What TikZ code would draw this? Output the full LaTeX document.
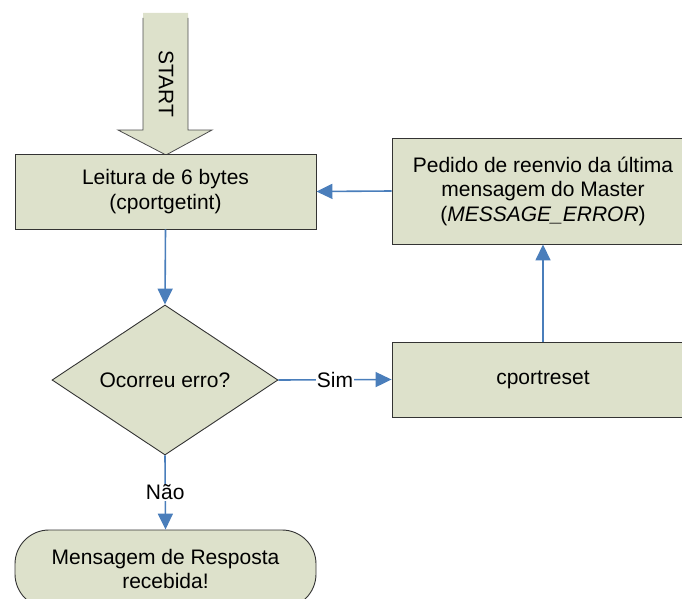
\documentclass[tikz,border=0pt]{standalone}
\usepackage{fontspec}
\setmainfont{Liberation Sans}
\usepackage{xcolor}
\usetikzlibrary{arrows.meta,positioning,shapes.geometric}
\definecolor{boxfill}{RGB}{221,225,203}
\definecolor{flowblue}{RGB}{74,126,187}

\begin{document}
\begin{tikzpicture}[x=1pt,y=-1pt,
    box/.style={draw=black!80, fill=boxfill, line width=0.9pt, align=center,
        font=\fontsize{21}{24.5}\selectfont, inner sep=0pt},
    flow/.style={draw=flowblue, line width=1.6pt, -{Triangle[length=16pt,width=15pt]}},
    flowlabel/.style={fill=white, inner sep=1pt, font=\fontsize{21}{24.5}\selectfont},
  ]
    \useasboundingbox (0,0) rectangle (682,599);

    % START arrow
    \fill[boxfill] (143,13) -- (143,130) -- (118,130) -- (166,155) -- (212,130) -- (188,130) -- (188,13) -- cycle;
    \draw[black!70, line width=0.8pt] (143,18) -- (143,130) -- (118,130) -- (166,155) -- (212,130) -- (188,130) -- (188,18);
    \node[rotate=-90, font=\fontsize{21}{24.5}\selectfont] (start) at (166,84) {START};

    % Boxes
    \node[box, minimum width=301pt, minimum height=75pt] (leitura) at (165.5,191.5)
        {Leitura de 6 bytes\\(cportgetint)};
    \node[box, diamond, minimum width=226pt, minimum height=150pt] (erro) at (165,380)
        {Ocorreu erro?};
    \node[box, minimum width=302pt, minimum height=106pt] (pedido) at (543,191)
        {Pedido de reenvio da última\\mensagem do Master\\(\textit{MESSAGE\_ERROR})};
    \node[box, minimum width=302pt, minimum height=75pt] (reset) at (543,379.5)
        {cportreset};
    \node[box, rounded corners=34pt, minimum width=301pt, minimum height=78pt] (fim) at (165.5,569)
        {Mensagem de Resposta\\recebida!};

    % Connectors
    \draw[flow] (leitura.south) -- (erro.north);
    \draw[flow] (erro.east) -- node[flowlabel] {Sim} (reset.west);
    \draw[flow] (reset.north) -- (pedido.south);
    \draw[flow] (pedido.west) -- (leitura.east);
    \draw[flow] (erro.south) -- node[flowlabel] {Não} (fim.north);
\end{tikzpicture}
\end{document}
